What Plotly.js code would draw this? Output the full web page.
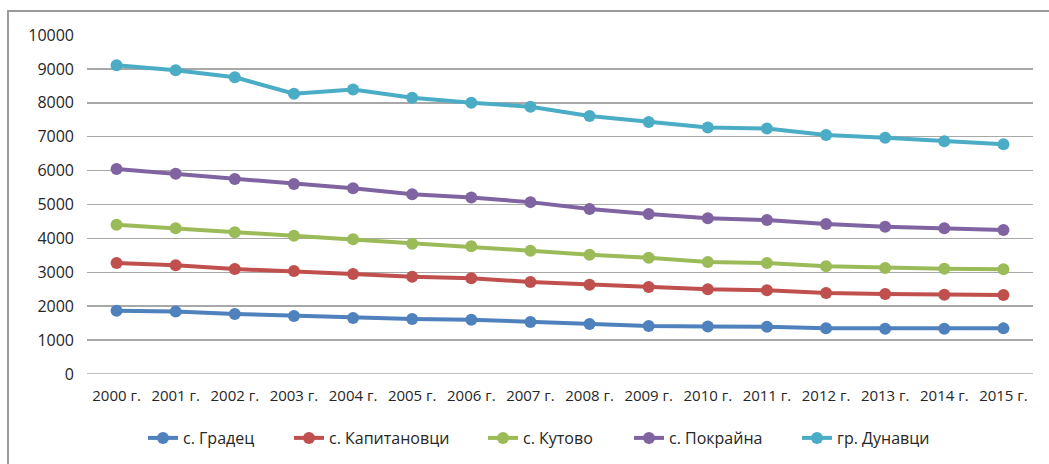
<!DOCTYPE html>
<html>
<head>
<meta charset="utf-8">
<script src="https://cdn.plot.ly/plotly-3.0.1.min.js"></script>
<style>
html,body{margin:0;padding:0;background:#fff;}
#frame{position:absolute;left:7px;top:10px;width:1050px;height:470px;border:2px solid #9a9a9a;box-sizing:border-box;pointer-events:none;}
#chart{position:absolute;left:0;top:0;width:1049px;height:464px;}
</style>
</head>
<body>
<div id="chart"></div>
<div id="frame"></div>
<script>
const years = ["2000 г.","2001 г.","2002 г.","2003 г.","2004 г.","2005 г.","2006 г.","2007 г.","2008 г.","2009 г.","2010 г.","2011 г.","2012 г.","2013 г.","2014 г.","2015 г."];
const gradets = [1868,1840,1770,1712,1652,1622,1602,1534,1476,1418,1398,1396,1348,1338,1336,1346];
const kapitanovtsi = [3274,3206,3097,3038,2950,2871,2822,2714,2635,2566,2498,2468,2390,2360,2340,2330];
const kutovo = [4404,4297,4179,4080,3973,3844,3766,3637,3519,3431,3304,3274,3176,3127,3107,3087];
const pokrayna = [6047,5909,5752,5605,5478,5300,5205,5070,4867,4720,4592,4543,4425,4346,4297,4248];
const dunavtsi = [9106,8958,8752,8269,8390,8150,8000,7885,7610,7434,7270,7240,7050,6968,6864,6775];
const names = ["с. Градец","с. Капитановци","с. Кутово","с. Покрайна","гр. Дунавци"];
const colors = ["#4F81BD","#C0504D","#9BBB59","#8064A2","#4BACC6"];
const series = [gradets,kapitanovtsi,kutovo,pokrayna,dunavtsi];

const PL = 87, PW = 946, PT = 35, PH = 339;
const legendTextStarts = [183, 329, 523, 669, 837];
const legendIds = ['legend','legend2','legend3','legend4','legend5'];

const traces = series.map((s,i)=>({
  x: years, y: s, name: names[i], type:'scatter', mode:'lines+markers',
  line:{color:colors[i], width:4},
  marker:{color:colors[i], size:12},
  legend: legendIds[i]
}));

const fontFam = '"Open Sans", "Liberation Sans", Arial, sans-serif';
const layout = {
  width:1049, height:464,
  margin:{l:PL, r:1049-PL-PW, t:PT, b:464-PT-PH, autoexpand:false},
  paper_bgcolor:'#fff', plot_bgcolor:'#fff',
  font:{family:fontFam, color:'#262626', size:15},
  showlegend:true,
  xaxis:{type:'category', range:[-0.5,15.5], showgrid:false, zeroline:false, showline:false,
    ticks:'', ticklabelstandoff:11, tickfont:{size:15}, fixedrange:true, automargin:false},
  yaxis:{range:[0,10000], dtick:1000, tickformat:'d', showgrid:true, gridcolor:'#a8a8a8', gridwidth:1.5,
    zeroline:false, showline:false, ticks:'', ticklabelstandoff:12, tickfont:{size:16}, fixedrange:true, automargin:false},
  shapes:[{type:'line', xref:'paper', yref:'y', x0:0, x1:1, y0:0, y1:0, line:{color:'#a8a8a8', width:1.5}}]
};
legendIds.forEach((id,i)=>{
  layout[id] = {orientation:'h', x:(legendTextStarts[i]-40-PL)/PW, xanchor:'left',
    y:(PT+PH-438)/PH, yanchor:'middle', bgcolor:'rgba(0,0,0,0)',
    font:{family:fontFam, size:16, color:'#262626'}, itemwidth:30};
});
Plotly.newPlot('chart', traces, layout, {displayModeBar:false, staticPlot:true});
</script>
</body>
</html>
